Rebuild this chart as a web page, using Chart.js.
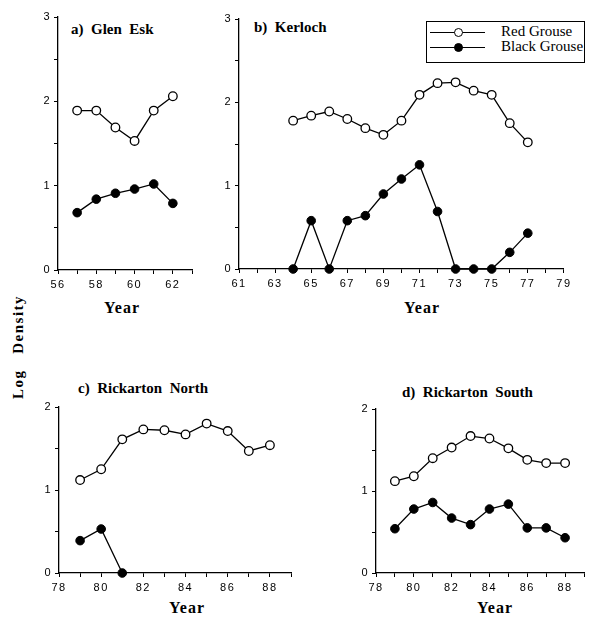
<!DOCTYPE html>
<html><head><meta charset="utf-8">
<script src="https://cdn.jsdelivr.net/npm/chart.js@4.4.1/dist/chart.umd.min.js"></script>
<style>
html,body{margin:0;padding:0;background:#fff;}
body{width:590px;height:617px;position:relative;overflow:hidden;font-family:'Liberation Serif',serif;}
canvas{position:absolute;}
.t{position:absolute;font:bold 15px 'Liberation Serif',serif;white-space:pre;color:#000;}
.yr{position:absolute;font:bold 16px 'Liberation Serif',serif;letter-spacing:1px;transform:translate(-50%,-50%);color:#000;}
#ylab{position:absolute;left:18px;top:347px;transform:translate(-50%,-50%) rotate(-90deg);font:bold 15px 'Liberation Serif',serif;letter-spacing:1.5px;white-space:pre;}
#legend{position:absolute;left:426px;top:21px;width:159px;height:42px;border:1px solid #000;box-sizing:border-box;}
.lrow{position:absolute;left:0;width:100%;height:16px;}
.lline{position:absolute;left:3px;width:55px;top:7px;height:0;border-top:1.3px solid #000;}
.ldot{position:absolute;left:27px;top:3px;width:7px;height:7px;border:1.3px solid #000;border-radius:50%;}
.ltxt{position:absolute;left:74px;top:-2px;font:15px 'Liberation Serif',serif;white-space:nowrap;}
</style></head>
<body>
<div id="ylab">Log   Density</div>
<div class="t" style="left:71px;top:21px">a)  Glen  Esk</div>
<div class="t" style="left:254px;top:19px">b)  Kerloch</div>
<div class="t" style="left:78px;top:380px">c)  Rickarton  North</div>
<div class="t" style="left:402px;top:384px">d)  Rickarton  South</div>
<div class="yr" style="left:122px;top:308px">Year</div>
<div class="yr" style="left:422px;top:308px">Year</div>
<div class="yr" style="left:187px;top:608px">Year</div>
<div class="yr" style="left:495px;top:608px">Year</div>
<div id="legend">
  <div class="lrow" style="top:3px"><div class="lline"></div><div class="ldot" style="background:#fff"></div><div class="ltxt">Red Grouse</div></div>
  <div class="lrow" style="top:18px"><div class="lline"></div><div class="ldot" style="background:#000"></div><div class="ltxt">Black Grouse</div></div>
</div>
<script>
// ---- data ----
const seriesNames = ['Red Grouse', 'Black Grouse'];

const glenYears = [57, 58, 59, 60, 61, 62];
const glenRed = [1.89, 1.89, 1.69, 1.53, 1.89, 2.06];
const glenBlack = [0.68, 0.84, 0.91, 0.96, 1.02, 0.79];

const kerYears = [64, 65, 66, 67, 68, 69, 70, 71, 72, 73, 74, 75, 76, 77];
const kerRed = [1.78, 1.84, 1.89, 1.80, 1.69, 1.61, 1.78, 2.09, 2.23, 2.24, 2.14, 2.09, 1.75, 1.52];
const kerBlack = [0, 0.58, 0, 0.58, 0.64, 0.90, 1.08, 1.25, 0.69, 0, 0, 0, 0.20, 0.43];

const rnYears = [79, 80, 81, 82, 83, 84, 85, 86, 87, 88];
const rnRed = [1.12, 1.25, 1.61, 1.73, 1.72, 1.67, 1.80, 1.71, 1.47, 1.54];
const rnBlackYears = [79, 80, 81];
const rnBlack = [0.39, 0.53, 0];

const rsYears = [79, 80, 81, 82, 83, 84, 85, 86, 87, 88];
const rsRed = [1.12, 1.18, 1.40, 1.53, 1.67, 1.64, 1.52, 1.38, 1.34, 1.34];
const rsBlack = [0.54, 0.78, 0.86, 0.67, 0.59, 0.78, 0.84, 0.55, 0.55, 0.43];

const glenXTicks = [56, 58, 60, 62];
const kerXTicks = [61, 63, 65, 67, 69, 71, 73, 75, 77, 79];
const rickXTicks = [78, 80, 82, 84, 86, 88];
const yTicks3 = [0, 1, 2, 3];
const yTicks2 = [0, 1, 2];

// ---- drawing ----
const PADL = 60, PADT = 20, PADR = 10, PADB = 32;
function pts(xs, ys) { return xs.map((x, i) => ({x: x, y: ys[i]})); }

const spacingPlugin = {
  id: 'spacing',
  beforeDraw(chart) { chart.ctx.letterSpacing = '1.5px'; }
};

function panel(area, xmin, xmax, xlabels, ymax, ylabels, redXs, redYs, blkXs, blkYs) {
  const c = document.createElement('canvas');
  const w = area.r - area.l + PADL + PADR;
  const h = area.b - area.t + PADT + PADB;
  c.width = w; c.height = h;
  c.style.left = (area.l - PADL) + 'px';
  c.style.top = (area.t - PADT) + 'px';
  c.style.width = w + 'px'; c.style.height = h + 'px';
  document.body.appendChild(c);
  const tickFont = {family: "'Liberation Sans', Arial, sans-serif", size: 11};
  new Chart(c, {
    type: 'line',
    plugins: [spacingPlugin],
    data: {
      datasets: [
        {label: seriesNames[1], data: pts(blkXs, blkYs), borderColor: '#000', borderWidth: 1.3,
         pointBackgroundColor: '#000', pointBorderColor: '#000', pointRadius: 4.3, pointBorderWidth: 1,
         tension: 0, clip: false},
        {label: seriesNames[0], data: pts(redXs, redYs), borderColor: '#000', borderWidth: 1.3,
         pointBackgroundColor: '#fff', pointBorderColor: '#000', pointRadius: 4.3, pointBorderWidth: 1.3,
         tension: 0, clip: false}
      ]
    },
    options: {
      responsive: false, animation: false, devicePixelRatio: 1,
      layout: {padding: {top: PADT, right: PADR, left: 0, bottom: 0}},
      plugins: {legend: {display: false}, tooltip: {enabled: false}, title: {display: false}},
      scales: {
        x: {
          type: 'linear', min: xmin, max: xmax,
          afterFit: s => { s.height = PADB; },
          border: {display: true, color: '#000', width: 1.3},
          grid: {display: true, drawOnChartArea: false, drawTicks: true, tickLength: 4, color: '#000', lineWidth: 1},
          ticks: {stepSize: 1, autoSkip: false, maxRotation: 0, color: '#000', font: tickFont, padding: 4,
                  callback: v => xlabels.includes(v) ? String(v) : ''}
        },
        y: {
          type: 'linear', min: 0, max: ymax,
          afterFit: s => { s.width = PADL; },
          border: {display: true, color: '#000', width: 1.3},
          grid: {display: true, drawOnChartArea: false, drawTicks: true, tickLength: 4, color: '#000', lineWidth: 1},
          ticks: {stepSize: 0.5, autoSkip: false, color: '#000', font: tickFont, padding: 3,
                  callback: v => ylabels.includes(v) ? String(v) : ''}
        }
      }
    }
  });
}

panel({l: 58, r: 192, t: 17, b: 270}, 56, 63, glenXTicks, 3, yTicks3, glenYears, glenRed, glenYears, glenBlack);
panel({l: 239, r: 564, t: 19, b: 269}, 61, 79, kerXTicks, 3, yTicks3, kerYears, kerRed, kerYears, kerBlack);
panel({l: 59, r: 291, t: 407, b: 573}, 78, 89, rickXTicks, 2, yTicks2, rnYears, rnRed, rnBlackYears, rnBlack);
panel({l: 376, r: 584, t: 409, b: 573}, 78, 89, rickXTicks, 2, yTicks2, rsYears, rsRed, rsYears, rsBlack);
</script>
</body></html>
